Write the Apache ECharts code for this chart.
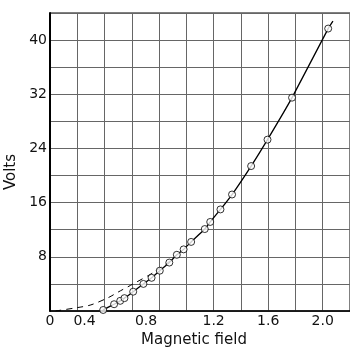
<!DOCTYPE html>
<html>
<head>
<meta charset="utf-8">
<script src="https://cdn.jsdelivr.net/npm/echarts@6/dist/echarts.min.js"></script>
<style>
  html, body { margin: 0; padding: 0; background: #fff; }
  #chart { width: 350px; height: 347px; }
</style>
</head>
<body>
<div id="chart"></div>
<script>
// measured points (magnetic field, volts)
const fieldPoints = [0.39, 0.47, 0.515, 0.546, 0.61, 0.685, 0.745, 0.805, 0.875, 0.93,
  0.98, 1.035, 1.135, 1.175, 1.25, 1.335, 1.475, 1.595, 1.775, 2.04];
const voltPoints = [0.15, 1.0, 1.5, 1.9, 2.85, 4.0, 4.9, 5.95, 7.15, 8.3,
  9.1, 10.2, 12.1, 13.15, 15.0, 17.2, 21.4, 25.3, 31.5, 41.7];

// ends of the solid curve beyond the measured points
const curveStart = [0.385, 0];
const curveEnd = [2.075, 42.8];

// dashed extrapolation toward the origin
const dashField = [0.04, 0.2, 0.3, 0.43, 0.5, 0.61, 0.76, 0.88];
const dashVolts = [0, 0.5, 0.9, 2.0, 2.8, 4.0, 5.7, 7.4];

const xLabels = { 0: "0", 0.4: "0.4", 0.8: "0.8", 1.2: "1.2", 1.6: "1.6", 2: "2.0" };
const yLabels = [8, 16, 24, 32, 40];

const points = fieldPoints.map((x, i) => [x, voltPoints[i]]);
const curve = [curveStart, ...points, curveEnd];
const dashed = dashField.map((x, i) => [x, dashVolts[i]]);

const chart = echarts.init(document.getElementById("chart"));

const font = "DejaVu Sans";

chart.setOption({
  animation: false,
  grid: {
    left: 50,
    right: 0,
    top: 13,
    bottom: 36,
    outerBoundsMode: "none",
    containLabel: false,
    show: true,
    borderColor: "#000",
    borderWidth: 1,
  },
  xAxis: {
    type: "value",
    min: 0,
    max: 2.2,
    interval: 0.2,
    name: "Magnetic field",
    nameLocation: "middle",
    nameGap: 17,
    nameTextStyle: { color: "#111", fontSize: 15, fontFamily: font, padding: [0, 12, 0, 0] },
    axisLine: { lineStyle: { color: "#000", width: 1.5 } },
    axisTick: { show: false },
    splitLine: { lineStyle: { color: "#666", width: 1 } },
    axisLabel: {
      margin: 3,
      color: "#111",
      fontSize: 14,
      fontFamily: font,
      formatter: (v) => {
        const key = Math.round(v * 10) / 10;
        const t = xLabels[key];
        if (t === undefined) return "";
        if (key === 0.4) return "{a|" + t + "}";
        if (key === 0.8) return "{b|" + t + "}";
        return t;
      },
      rich: {
        a: { fontSize: 14, fontFamily: font, color: "#111", padding: [0, 40, 0, 0] },
        b: { fontSize: 14, fontFamily: font, color: "#111", padding: [0, 26, 0, 0] },
      },
    },
  },
  yAxis: {
    type: "value",
    min: 0,
    max: 44,
    interval: 4,
    name: "Volts",
    nameLocation: "middle",
    nameGap: 30,
    nameTextStyle: { color: "#111", fontSize: 15, fontFamily: font, padding: [0, 20, 0, 0] },
    axisLine: { show: true, lineStyle: { color: "#000", width: 2 } },
    axisTick: { show: false },
    splitLine: { lineStyle: { color: "#666", width: 1 } },
    axisLabel: {
      margin: 3,
      color: "#111",
      fontSize: 14,
      fontFamily: font,
      formatter: (v) => (yLabels.includes(v) ? String(v) : ""),
    },
  },
  series: [
    {
      type: "line",
      data: dashed,
      smooth: 0.3,
      showSymbol: false,
      lineStyle: { color: "#000", width: 1, type: [6, 5] },
      z: 2,
    },
    {
      type: "line",
      data: curve,
      smooth: 0.15,
      showSymbol: false,
      lineStyle: { color: "#000", width: 1.3 },
      z: 3,
    },
    {
      type: "scatter",
      data: points,
      symbol: "circle",
      symbolSize: 7,
      itemStyle: { color: "#fff", borderColor: "#000", borderWidth: 1 },
      z: 4,
    },
  ],
});
</script>
</body>
</html>
